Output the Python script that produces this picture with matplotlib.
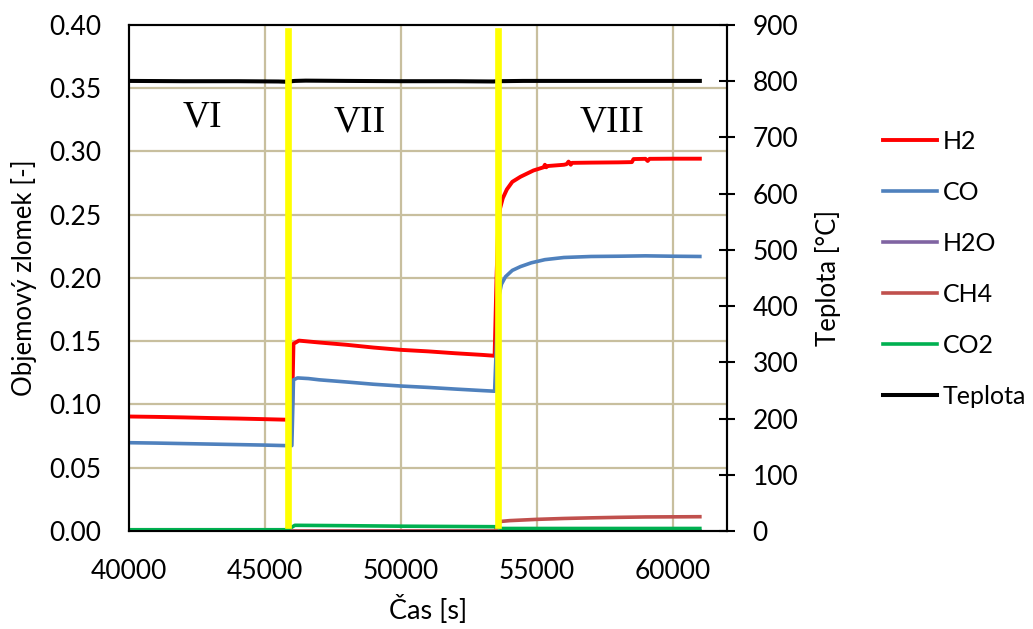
import numpy as np
import matplotlib.pyplot as plt

plt.rcParams['font.family'] = ['Lato', 'DejaVu Sans']

# casove body (s) a objemove zlomky
h2_t = [40000, 41000, 42000, 43000, 44000, 45000, 45750,
        45990, 46050, 46250, 46600, 47000, 48000, 49000, 50000, 51000, 52000, 53000, 53450,
        53520, 53580, 53650, 53750, 53900, 54100, 54400, 54880, 55250, 55300, 55350, 55400,
        56000, 56100, 56170, 56250, 56300, 57000, 58000, 58500, 58560, 59000, 59080, 59150,
        59250, 60000, 61000]
h2 = [0.0905, 0.0902, 0.0898, 0.0893, 0.0889, 0.0884, 0.0880,
      0.0880, 0.1480, 0.1505, 0.1498, 0.1490, 0.1472, 0.1450, 0.1432, 0.1420, 0.1405, 0.1392, 0.1385,
      0.200, 0.240, 0.255, 0.263, 0.270, 0.276, 0.280, 0.285, 0.2875, 0.2895, 0.2875, 0.2885,
      0.2895, 0.2900, 0.2920, 0.2895, 0.2910, 0.2912, 0.2914, 0.2916, 0.2940, 0.2942, 0.2925, 0.2942,
      0.2942, 0.2943, 0.2943]

co_t = [40000, 41000, 42000, 43000, 44000, 45000, 45750,
        45990, 46050, 46200, 46600, 47000, 48000, 49000, 50000, 51000, 52000, 53000, 53450,
        53520, 53600, 53700, 53850, 54100, 54400, 54800, 55300, 56000, 57000, 58000, 59000,
        60000, 61000]
co = [0.0698, 0.0695, 0.0691, 0.0687, 0.0683, 0.0679, 0.0675,
      0.0675, 0.1195, 0.1210, 0.1205, 0.1195, 0.1178, 0.1160, 0.1146, 0.1135, 0.1122, 0.1110, 0.1105,
      0.150, 0.185, 0.195, 0.201, 0.206, 0.209, 0.212, 0.2145, 0.2162, 0.2170, 0.2172, 0.2175,
      0.2172, 0.2170]

h2o_t = [40000, 61000]
h2o = [0.0, 0.0]

ch4_t = [40000, 53450, 53520, 53600, 53700, 54000, 55000, 56000, 57000,
         58000, 59000, 60000, 61000]
ch4 = [0.0, 0.0, 0.002, 0.0072, 0.0076, 0.0082, 0.0092, 0.0099, 0.0104,
       0.0108, 0.0111, 0.0112, 0.0113]

co2_t = [40000, 45750, 45990, 46100, 48000, 50000, 53450, 53550, 53700, 57000, 61000]
co2 = [0.0010, 0.0010, 0.0030, 0.0045, 0.0042, 0.0038, 0.0034, 0.0030, 0.0020, 0.0020, 0.0020]

teplota_t = [40000, 42000, 44000, 45500, 45800, 46100, 46500, 48000, 50000, 52000, 53400,
             53600, 54500, 56000, 58000, 60000, 61000]
teplota = [800.5, 800.0, 800.0, 799.5, 799.0, 800.5, 801.0, 800.5, 800.0, 800.0, 799.5,
           800.0, 800.5, 800.5, 800.5, 800.5, 800.5]

# hranice mezi rezimy a jejich oznaceni
hranice = [45850, 53560]
rezimy = ['VI', 'VII', 'VIII']
rezimy_x = [42700, 48500, 57780]
rezimy_y = [0.320, 0.316, 0.316]

fig = plt.figure(figsize=(10.33, 6.29), dpi=100)
ax = fig.add_axes([0.1249, 0.1558, 0.5789, 0.8045])
ax2 = ax.twinx()

grid_c = '#C8BF9E'
lw = 2.6
ax.plot(h2o_t, h2o, color='#8064A2', lw=lw, label='H2O', zorder=3)
ax.plot(h2_t, h2, color='#FF0000', lw=lw + 0.2, label='H2', zorder=3)
ax.plot(co_t, co, color='#4F81BD', lw=lw, label='CO', zorder=3)
ax.plot(ch4_t, ch4, color='#C0504D', lw=lw, label='CH4', zorder=3)
ax.plot(co2_t, co2, color='#00B050', lw=lw, label='CO2', zorder=3)
ax2.plot(teplota_t, teplota, color='black', lw=lw + 0.3, label='Teplota', zorder=3)

for xh in hranice:
    ax2.axvline(xh, ymin=0.012, ymax=0.988, color='#FFFF00', lw=4.8, zorder=5)

for lab, xx, yy in zip(rezimy, rezimy_x, rezimy_y):
    ax.text(xx, yy, lab, family='Liberation Serif', fontsize=27, ha='center', va='baseline')

ax.set_xlim(40000, 62000)
ax.set_ylim(0, 0.40)
ax2.set_ylim(0, 900)
ax.set_xticks(np.arange(40000, 60001, 5000))
ax.set_yticks(np.arange(0, 0.401, 0.05))
ax.set_yticklabels([f'{v:.2f}' for v in np.arange(0, 0.401, 0.05)])
ax2.set_yticks(np.arange(0, 901, 100))

for v in np.arange(0.05, 0.36, 0.05):
    ax.axhline(v, color=grid_c, lw=1.6, zorder=0)
for v in np.arange(45000, 60001, 5000):
    ax.axvline(v, color=grid_c, lw=1.6, zorder=0)

ax.tick_params(axis='x', length=0, labelsize=19, pad=20)
ax.tick_params(axis='y', length=0, labelsize=19, pad=20)
ax2.tick_params(axis='y', length=11, width=1.5, direction='inout', labelsize=19, pad=13)
for sp in list(ax.spines.values()) + list(ax2.spines.values()):
    sp.set_linewidth(1.5)
    sp.set_color('black')

ax.set_ylabel('Objemový zlomek [-]', fontsize=18.5, labelpad=9)
ax2.set_ylabel('Teplota [°C]', fontsize=18.5, labelpad=12)
ax.set_xlabel('Čas [s]', fontsize=19.5, labelpad=8)

h, l = ax.get_legend_handles_labels()
h2_, l2_ = ax2.get_legend_handles_labels()
handles = dict(zip(l + l2_, h + h2_))
order = ['H2', 'CO', 'H2O', 'CH4', 'CO2', 'Teplota']
fig.legend([handles[k] for k in order], order, loc='center left',
           bbox_to_anchor=(0.8548, 0.572), frameon=False, fontsize=18,
           borderpad=0, borderaxespad=0,
           handlelength=2.15, handletextpad=0.25, labelspacing=1.12)

fig.savefig('out.png', dpi=100)
